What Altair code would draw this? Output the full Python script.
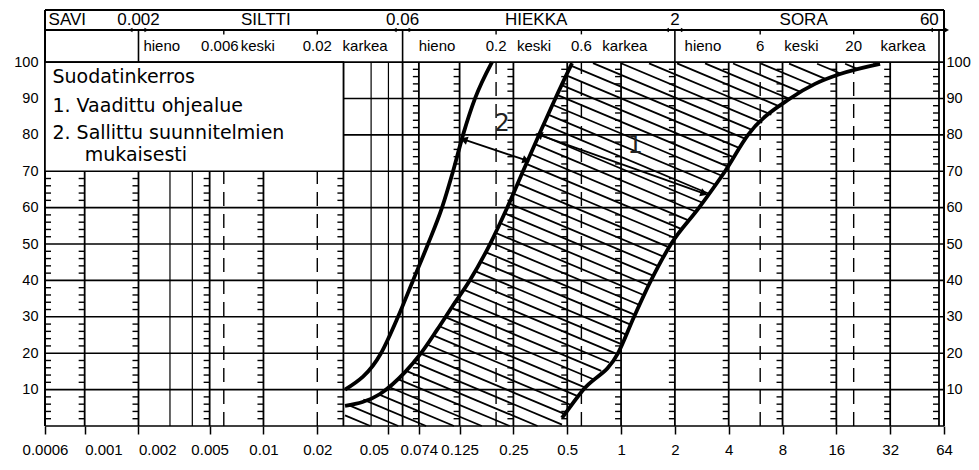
import math
import numpy as np
import pandas as pd
import altair as alt

# ---------------- data ----------------
X_MIN, X_MAX = 0.0006, 64
Y_TOP = 114.3          # top of header (above 100 %)
Y_MID = 108.8          # header row separator

x_tick_labels = [0.0006, 0.001, 0.002, 0.005, 0.01, 0.02, 0.05, 0.074, 0.125,
                 0.25, 0.5, 1, 2, 4, 8, 16, 32, 64]
y_tick_labels = [10, 20, 30, 40, 50, 60, 70, 80, 90, 100]
h_grid = [10, 20, 30, 40, 50, 60, 70, 80, 90]

ticked_lines = [0.001, 0.002, 0.005, 0.01, 0.028, 0.074, 0.125, 0.25, 0.5,
                1, 2, 4, 8, 16, 32, 60]
thick_lines = [0.06]
thin_lines = [0.003, 0.004, 0.04, 0.05]
dashed_lines = [0.006, 0.02, 0.2, 0.6, 6, 20]
border_lines = [0.0006, 64]
header_dividers = [0.002, 0.06, 2, 60]
header_arrows = [0.002, 0.06, 2, 60]

# curve 2 (left boundary of the allowed band)
left_d = [0.02858, 0.04544, 0.05657, 0.06864, 0.08324, 0.09967, 0.1149, 0.1307,
          0.1525, 0.1898]
left_p = [10, 20, 30, 40, 50, 60, 70, 80, 90, 100]
# middle curve (left boundary of the required band)
mid_d = [0.02858, 0.04486, 0.06192, 0.07608, 0.09349, 0.1134, 0.1430, 0.1850,
         0.2303, 0.2829, 0.3478, 0.4273, 0.5319]
mid_p = [5.5, 8.8, 14.8, 20.0, 26.4, 32.7, 40.1, 50.0, 59.9, 70.0, 80.0, 89.8, 99.7]
# right curve
right_d = [0.4676, 0.6127, 0.9621, 1.182, 1.471, 1.903, 2.731, 3.817, 5.132,
           8.817, 12.16, 16.78, 28.10]
right_p = [2.2, 9.9, 20.0, 30.0, 40.0, 50.0, 60.0, 70.0, 80.0, 90.0, 94.0, 96.7, 99.5]

row1_text = ["SAVI", "0.002", "SILTTI", "0.06", "HIEKKA", "2", "SORA", "60"]
row1_x = [0.0008, 0.002, 0.0103, 0.06, 0.335, 2, 10.5, 53]
row2_text = ["hieno", "0.006", "keski", "0.02", "karkea", "hieno", "0.2", "keski",
             "0.6", "karkea", "hieno", "6", "keski", "20", "karkea"]
row2_x = [0.0027, 0.0057, 0.0093, 0.02, 0.037, 0.0935, 0.2, 0.326, 0.6, 1.05,
          2.87, 6, 10.2, 20, 37.8]

legend_text = ["Suodatinkerros", "1. Vaadittu ohjealue",
               "2. Sallittu suunnitelmien", "mukaisesti"]
legend_x = [0.00066, 0.00066, 0.00066, 0.001]
legend_y = [95.9, 87.9, 80.5, 74.5]
legend_box = dict(x0=0.0006, x1=0.028, y0=70, y1=100)

band_labels = ["1", "2"]
band_label_x = [1.198, 0.216]
band_label_y = [76.9, 83.0]
arrows = [((0.134, 78.6), (0.290, 73.1)), ((0.352, 79.9), (2.87, 64.0))]

# ---------------- layout ----------------
W, H = 899, 416
PX_OCT = W / math.log2(X_MAX / X_MIN)
PX_PCT = H / Y_TOP

XS = alt.Scale(type="log", domain=[X_MIN, X_MAX], nice=False)
YS = alt.Scale(domain=[0, Y_TOP], nice=False, zero=False)


def xq(f, axis=None):
    return alt.X(f"{f}:Q", scale=XS, axis=axis)


def yq(f, axis=None):
    return alt.Y(f"{f}:Q", scale=YS, axis=axis)


BLACK = "#000000"
LAB = "Liberation Sans"

bottom_align = {
    "condition": [
        {"test": "datum.value > 0.0009 && datum.value < 0.0025", "value": "left"},
        {"test": "datum.value > 0.04 && datum.value < 0.06", "value": "right"},
    ],
    "value": "center",
}
bottom_axis = alt.Axis(values=x_tick_labels, labelExpr="'' + datum.value",
                       tickSize=8, tickWidth=1.5, tickColor=BLACK, domain=False,
                       grid=False, labelFont=LAB, labelFontSize=15,
                       labelAlign=bottom_align,
                       labelColor=BLACK, labelPadding=8, labelFlush=False,
                       labelOverlap=False, labelBound=False, title=None)
left_axis = alt.Axis(values=y_tick_labels, ticks=False, domain=False, grid=False,
                     labelFont=LAB, labelFontSize=14.5, labelColor=BLACK,
                     labelPadding=7, title=None)
right_axis = alt.Axis(values=y_tick_labels, orient="right", ticks=False,
                      domain=False, grid=False, labelFont=LAB,
                      labelFontSize=14.5, labelColor=BLACK, labelPadding=2,
                      title=None)

layers = []

# horizontal gridlines (+ axes)
df_h = pd.DataFrame({"p": h_grid + [0], "x0": X_MIN, "x1": X_MAX})
layers.append(alt.Chart(df_h).mark_rule(color=BLACK, strokeWidth=1.6).encode(
    x=xq("x0", bottom_axis), x2="x1", y=yq("p", left_axis)))
layers.append(alt.Chart(pd.DataFrame({"p": y_tick_labels})).mark_point(opacity=0).encode(
    x=alt.value(0), y=yq("p", right_axis)))


def vlines(vals, y0, y1, **mk):
    df = pd.DataFrame({"d": vals, "y0": y0, "y1": y1})
    return alt.Chart(df).mark_rule(color=BLACK, **mk).encode(
        x=xq("d"), y=yq("y0"), y2="y1")


layers.append(vlines(ticked_lines + thick_lines, 0, 100, strokeWidth=1.8))
layers.append(vlines(thin_lines, 0, 100, strokeWidth=1.2))
layers.append(vlines(dashed_lines, 0, 100, strokeWidth=1.4, strokeDash=[14, 8]))
layers.append(vlines(border_lines, 0, Y_TOP, strokeWidth=2))
layers.append(vlines(header_dividers, 100, Y_MID, strokeWidth=1.6))
layers.append(vlines(dashed_lines, Y_MID - 1.2, Y_MID, strokeWidth=1.4))

# minor ticks every 2 % (short horizontal dashes beside the ticked lines)
minor_y = [v for v in range(2, 100, 2) if v % 10 != 0]
TL = 2 ** (6 / PX_OCT)
rows = [(d, y, d / TL) for d in ticked_lines for y in minor_y]
rows += [(X_MIN, y, X_MIN * TL) for y in minor_y]
df_minor = pd.DataFrame(rows, columns=["d", "p", "d2"])
layers.append(alt.Chart(df_minor).mark_rule(color=BLACK, strokeWidth=1.4).encode(
    x=xq("d"), x2="d2", y=yq("p")))

# hatch of band 1 (between middle and right curve)
K = 0.42 * PX_OCT / PX_PCT
STEP = 11.7 / PX_PCT
poly = ([(math.log2(mid_d[0]), 0.0)] +
        [(math.log2(d), p) for d, p in zip(mid_d, mid_p)] +
        [(math.log2(d), p) for d, p in zip(right_d, right_p)][::-1] +
        [(math.log2(right_d[0]), 0.0)])
segs = []
n = len(poly)
for b in np.arange(-45.0, 145.0, STEP):
    us = []
    for i in range(n):
        u1, y1 = poly[i]
        u2, y2 = poly[(i + 1) % n]
        f1 = y1 + K * u1 - b
        f2 = y2 + K * u2 - b
        if (f1 > 0) != (f2 > 0):
            t = f1 / (f1 - f2)
            us.append(u1 + t * (u2 - u1))
    us.sort()
    for j in range(0, len(us) - 1, 2):
        ua, ub = us[j], us[j + 1]
        segs.append((2 ** ua, b - K * ua, 2 ** ub, b - K * ub))
df_hatch = pd.DataFrame(segs, columns=["xa", "ya", "xb", "yb"])
layers.append(alt.Chart(df_hatch).mark_rule(color=BLACK, strokeWidth=1.8).encode(
    x=xq("xa"), y=yq("ya"), x2="xb", y2="yb"))

# legend box
df_box = pd.DataFrame([legend_box])
layers.append(alt.Chart(df_box).mark_rect(fill="white", stroke=BLACK, strokeWidth=1.6).encode(
    x=xq("x0"), x2="x1", y=yq("y0"), y2="y1"))
df_leg = pd.DataFrame({"t": legend_text, "d": legend_x, "p": legend_y})
layers.append(alt.Chart(df_leg).mark_text(align="left", baseline="middle", font="DejaVu Sans",
                                          fontSize=19, color=BLACK).encode(
    x=xq("d"), y=yq("p"), text="t"))

# curves
for dd, pp in [(left_d, left_p), (mid_d, mid_p), (right_d, right_p)]:
    df_c = pd.DataFrame({"d": dd, "p": pp})
    layers.append(alt.Chart(df_c).mark_line(color=BLACK, strokeWidth=3.8,
                                            interpolate="monotone").encode(
        x=xq("d"), y=yq("p")))

# arrows
arow, heads = [], []
for (d1, p1), (d2, p2) in arrows:
    arow.append((d1, p1, d2, p2))
    for (da, pa), (db, pb) in [((d2, p2), (d1, p1)), ((d1, p1), (d2, p2))]:
        dx = (math.log2(db) - math.log2(da)) * PX_OCT
        dy = (pb - pa) * PX_PCT
        ang = math.degrees(math.atan2(dx, dy)) % 360
        heads.append((db, pb, ang))
df_ar = pd.DataFrame(arow, columns=["xa", "ya", "xb", "yb"])
layers.append(alt.Chart(df_ar).mark_rule(color=BLACK, strokeWidth=1.8).encode(
    x=xq("xa"), y=yq("ya"), x2="xb", y2="yb"))
df_heads = pd.DataFrame(heads, columns=["d", "p", "a"])
layers.append(alt.Chart(df_heads).mark_point(shape="triangle", filled=True, size=70,
                                             color=BLACK, opacity=1).encode(
    x=xq("d"), y=yq("p"), angle=alt.Angle("a:Q", scale=None)))

# band labels
df_bl = pd.DataFrame({"t": band_labels, "d": band_label_x, "p": band_label_y})
layers.append(alt.Chart(df_bl).mark_text(font="DejaVu Sans", fontSize=24, color="#222222",
                                         baseline="middle").encode(
    x=xq("d"), y=yq("p"), text="t"))

# header frame
df_hh = pd.DataFrame({"p": [Y_TOP, Y_MID, 100], "x0": X_MIN, "x1": X_MAX})
layers.append(alt.Chart(df_hh).mark_rule(color=BLACK, strokeWidth=1.8).encode(
    x=xq("x0"), x2="x1", y=yq("p")))
df_ha = pd.DataFrame({"d": header_arrows, "p": Y_MID})
layers.append(alt.Chart(df_ha).mark_point(shape="triangle-left", filled=True, size=22,
                                          color=BLACK, opacity=1, xOffset=-8).encode(
    x=xq("d"), y=yq("p")))
layers.append(alt.Chart(df_ha).mark_point(shape="triangle-right", filled=True, size=22,
                                          color=BLACK, opacity=1, xOffset=8).encode(
    x=xq("d"), y=yq("p")))

df_r1 = pd.DataFrame({"t": row1_text, "d": row1_x, "p": (Y_TOP + Y_MID) / 2})
layers.append(alt.Chart(df_r1).mark_text(font=LAB, fontSize=17, color=BLACK,
                                         baseline="middle").encode(
    x=xq("d"), y=yq("p"), text="t"))
df_r2 = pd.DataFrame({"t": row2_text, "d": row2_x, "p": (Y_MID + 100) / 2})
layers.append(alt.Chart(df_r2).mark_text(font=LAB, fontSize=15, color=BLACK,
                                         baseline="middle").encode(
    x=xq("d"), y=yq("p"), text="t"))

chart = alt.layer(*layers).resolve_axis(x="independent", y="independent").properties(
    width=W, height=H,
    autosize=alt.AutoSizeParams(type="none"),
    padding={"left": 37, "top": 2, "right": 27, "bottom": 32},
    background="white",
).configure_view(stroke=None)

chart.save("out.html", embed_options={"renderer": "svg", "actions": False})
